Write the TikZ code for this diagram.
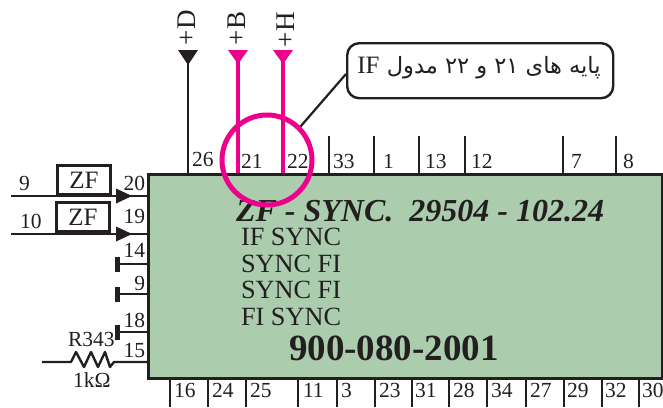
\documentclass[tikz,border=0pt]{standalone}
\usepackage{fontspec}
\setmainfont{Liberation Serif}
\newfontfamily\arabicfont[Script=Arabic]{DejaVu Sans}
\TeXXeTstate=1
\definecolor{ink}{HTML}{231F20}
\definecolor{pinkc}{HTML}{EC008C}
\definecolor{boxg}{HTML}{ABCDAE}
\tikzset{
 pin/.style={draw=ink,line width=2.4pt},
 pinkpin/.style={draw=pinkc,line width=4.5pt},
 lab/.style={anchor=base west,inner sep=0pt,outer sep=0pt,text=ink,font=\fontsize{21.5}{21.5}\selectfont},
 zfbox/.style={draw=ink,line width=3pt,minimum width=53pt,minimum height=29pt,inner sep=0pt,text=ink,font=\fontsize{25}{25}\selectfont},
 sync/.style={lab,font=\fontsize{26.3}{26.3}\selectfont},
 rail/.style={lab,rotate=90,font=\fontsize{27}{27}\selectfont},
}
\begin{document}
\begin{tikzpicture}[x=1pt,y=-1pt]
\useasboundingbox (0,0) rectangle (663,407);
% main box
\node[draw=ink,line width=2.6pt,fill=boxg,minimum width=514pt,minimum height=204pt,inner sep=0pt,anchor=north west] (ic) at (147,173) {};
% top pins
\foreach \n/\x/\t/\tx in {a/188/26/192,d/329/33/333,e/374/1/383,f/419/13/425,g/465/12/471,h/563/7/571,i/616/8/623}{
  \coordinate (top\n) at (\x,136);
  \draw[pin] (top\n) -- (top\n |- ic.north);
}
\foreach \n/\t/\tx/\by in {26/26/192/166,33/33/333/168,1/1/383/168,13/13/425/168,12/12/471/168,7/7/571/168,8/8/623/168,21/21/241/168,22/22/287/168}{
  \node[lab] (tl\n) at (\tx,\by) {\t};
}
% bottom pins
\foreach \n/\x/\tx in {16/170/174,24/208/212,25/246/250,11/298/303,3/337/341,23/375/379,31/412/415,28/449/453,34/487/491,27/526/530,29/564/567,32/602/605,30/639/642}{
  \coordinate (bot\n) at (\x,407);
  \draw[pin] (bot\n) -- (bot\n |- ic.south);
  \node[lab] (bl\n) at (\tx,397) {\n};
}
% +D rail
\coordinate (railD) at (188,50);
\draw[pin] (railD) -- (railD |- ic.north);
\fill[ink] (178,50) -- (198,50) -- (188,65) -- cycle;
\node[rail] (lD) at (195,45) {+D};
% +B +H rails
\coordinate (railB) at (238,50);
\coordinate (railH) at (283,50);
\draw[pinkpin] (railB) -- (railB |- ic.north);
\draw[pinkpin] (railH) -- (railH |- ic.north);
\fill[pinkc] (228,50) -- (248,50) -- (238,64) -- cycle;
\fill[pinkc] (273,50) -- (293,50) -- (283,64) -- cycle;
\node[rail] (lB) at (245,45) {+B};
\node[rail] (lH) at (294,47) {+H};
% texts in box
\node[lab,font=\fontsize{32}{32}\selectfont\bfseries\itshape] (title) at (236,221) {ZF - SYNC.\ \ 29504 - 102.24};
\node[sync] (s1) at (241,245) {IF SYNC};
\node[sync] (s2) at (241,272) {SYNC FI};
\node[sync] (s3) at (241,298) {SYNC FI};
\node[sync] (s4) at (241,325) {FI SYNC};
\node[lab,font=\fontsize{37}{37}\selectfont\bfseries] (part) at (289,360) {900-080-2001};
% callout
\node[draw=ink,line width=2.4pt,fill=white,rounded corners=12pt,minimum width=266pt,minimum height=55pt,inner sep=0pt,anchor=north west] (note) at (346,42) {};
\node[inner sep=0pt,text=ink,font=\fontsize{22.5}{22.5}\arabicfont] (notet) at (479,68) {\beginR پایه های \beginL ۲۱\endL{} و \beginL ۲۲\endL{} مدول \beginL{\fontsize{25}{25}\rmfamily IF}\endL\endR};
\node[circle,draw=pinkc,line width=5pt,minimum size=90pt,inner sep=0pt] (ring) at (267,160) {};
\draw[draw=ink,line width=2.2pt] (ring.45) -- (note.west |- 0,74);
% inputs
\node[zfbox,anchor=north west] (zf1) at (56,164) {ZF};
\node[zfbox,anchor=north west] (zf2) at (55,201) {ZF};
\foreach \n/\y in {1/196,2/234}{
  \coordinate (in\n) at (11,\y);
  \draw[pin] (in\n) -- (in\n -| ic.west);
  \fill[ink] (116,\y-7.5) -- (132,\y) -- (116,\y+7.5) -- cycle;
}
\node[lab] (l9a) at (19,190) {9};
\node[lab] (l10a) at (20,228) {10};
% stubs
\foreach \n/\y in {a/264,b/294,c/332}{
  \coordinate (st\n) at (117,\y);
  \draw[pin] (st\n) -- (st\n -| ic.west);
  \fill[ink] (115,\y-7.5) rectangle (120,\y+7.5);
}
% left numbers
\foreach \n/\t/\by in {p20/20/190,p19/19/223,p14/14/257,p9/9/290,p18/18/327,p15/15/357}{
  \node[lab,anchor=base east] (\n) at (145,\by) {\t};
}
% resistor
\coordinate (rin) at (42,362);
\draw[draw=ink,line width=2.4pt,line join=round] (rin) -- (71,362) -- (76,352) -- (84,367) -- (91,352) -- (98,367) -- (105,352) -- (110,367) -- (114,362) -- (rin -| ic.west);
\node[lab] (rname) at (68,346) {R343};
\node[lab] (rval) at (73,387) {1kΩ};
\end{tikzpicture}
\end{document}
